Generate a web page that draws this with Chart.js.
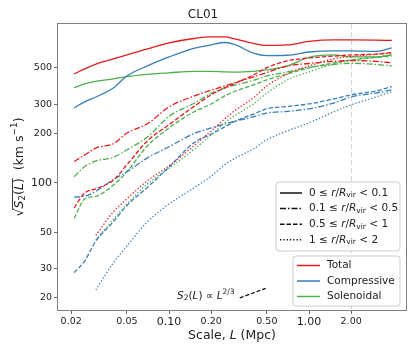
<!DOCTYPE html>
<html>
<head>
<meta charset="utf-8">
<script src="https://cdn.jsdelivr.net/npm/chart.js@4.4.1/dist/chart.umd.min.js"></script>
<style>
  html, body { margin: 0; padding: 0; background: #fff; }
</style>
</head>
<body>
<canvas id="chart" width="415" height="356"></canvas>
<script>
/* CL01 structure functions */

const F = 'DejaVu Sans';

// scale L (Mpc), shared by every curve
const scaleL = [0.021, 0.025, 0.03, 0.04, 0.05, 0.07, 0.1, 0.15, 0.2, 0.25, 0.3, 0.4, 0.5, 0.7, 1.0, 1.5, 2.0, 3.0, 3.9];

// Total
const total1 = [460, 493, 528, 567, 600, 653, 710, 755, 773, 773, 748, 705, 686, 690, 725, 740, 740, 738, 735];
const total2 = [135, 148, 163, 173, 201, 229, 290, 337, 366, 389, 408, 441, 469, 514, 532, 548, 554, 548, 538];
const total3 = [70.5, 87, 92, 104, 129, 180, 226, 291, 343, 378, 405, 453, 502, 552, 575, 590, 600, 607, 620];
const total4 = [null, null, 48, 66.7, 80, 103, 127, 168, 207, 245, 278, 329, 389, 460, 514, 567, 587, 604, 617];

// Compressive
const comp1 = [286, 311, 333, 378, 447, 514, 583, 658, 690, 714, 690, 615, 594, 597, 625, 635, 635, 630, 662];
const comp2 = [82, 83, 89, 105, 117, 142, 166, 199, 216, 228, 238, 252, 266, 272, 282, 306, 333, 352, 368];
const comp3 = [28.5, 33.6, 44.4, 58, 73, 94, 125, 175, 198, 219, 238, 262, 282, 292, 302, 324, 343, 362, 385];
const comp4 = [null, null, 22.4, 32.7, 41.4, 58, 74.5, 93, 110, 129, 142, 161, 183, 207, 232, 270, 298, 333, 359];

// Solenoidal
const sole1 = [380, 400, 414, 429, 443, 457, 467, 477, 477, 473, 472, 477, 486, 514, 580, 600, 583, 583, 600];
const sole2 = [109, 126, 136, 143, 159, 190, 254, 304, 350, 378, 394, 420, 447, 473, 504, 525, 534, 525, 514];
const sole3 = [61, 80, 83, 97, 117, 168, 216, 270, 302, 338, 362, 394, 423, 460, 500, 536, 559, 580, 590];
const sole4 = [null, null, 45, 60, 74.5, 98.6, 123, 159, 196, 232, 259, 302, 352, 423, 473, 528, 556, 580, 600];

const components = ['Total', 'Compressive', 'Solenoidal'];
const binLo = ['0', '0.1', '0.5', '1'];
const binHi = ['0.1', '0.5', '1', '2'];

const xTicks = [0.02, 0.05, 0.1, 0.2, 0.5, 1, 2];
const yTicks = [20, 30, 50, 100, 200, 300, 500];

// S2 ~ L^(2/3) guide
const slopeL = [0.32, 0.49];
const slopeV = [20, 22.9];

const colors = ['#e41a1c', '#377eb8', '#4daf4a'];
const dashes = [[], [6, 2, 1.5, 2], [4.5, 2], [1.3, 2]];

function series(vals, color, dash) {
  return {
    data: scaleL.map((x, i) => ({ x: x, y: vals[i] })),
    borderColor: color,
    borderWidth: 1.3,
    borderDash: dash,
    pointRadius: 0,
    fill: false,
    cubicInterpolationMode: 'monotone',
    spanGaps: true
  };
}

const groups = [
  [total1, total2, total3, total4],
  [comp1, comp2, comp3, comp4],
  [sole1, sole2, sole3, sole4]
];

const datasets = [];
groups.forEach((g, c) => g.forEach((vals, b) => datasets.push(series(vals, colors[c], dashes[b]))));
datasets.push({
  data: slopeL.map((x, i) => ({ x: x, y: slopeV[i] })),
  borderColor: '#111', borderWidth: 1.3, borderDash: [4, 2], pointRadius: 0, fill: false
});

// draw text made of several font pieces, returns x of each piece start
function drawParts(ctx, parts, x, y, align) {
  let w = 0;
  parts.forEach(p => { ctx.font = p.f; w += ctx.measureText(p.t).width; });
  let cx = align === 'center' ? x - w / 2 : x;
  const xs = [];
  parts.forEach(p => {
    ctx.font = p.f;
    xs.push(cx);
    ctx.fillText(p.t, cx, y + (p.dy || 0));
    cx += ctx.measureText(p.t).width;
  });
  xs.push(cx);
  return xs;
}

function box(ctx, x, y, w, h, r) {
  ctx.beginPath();
  ctx.moveTo(x + r, y);
  ctx.lineTo(x + w - r, y);
  ctx.quadraticCurveTo(x + w, y, x + w, y + r);
  ctx.lineTo(x + w, y + h - r);
  ctx.quadraticCurveTo(x + w, y + h, x + w - r, y + h);
  ctx.lineTo(x + r, y + h);
  ctx.quadraticCurveTo(x, y + h, x, y + h - r);
  ctx.lineTo(x, y + r);
  ctx.quadraticCurveTo(x, y, x + r, y);
  ctx.closePath();
  ctx.fillStyle = 'rgba(255,255,255,0.85)';
  ctx.fill();
  ctx.strokeStyle = '#cccccc';
  ctx.lineWidth = 1;
  ctx.stroke();
}

const n = s => s + 'px "' + F + '"';
const it = s => 'italic ' + s + 'px "' + F + '"';

const decor = {
  id: 'decor',
  beforeDatasetsDraw(chart) {
    const { ctx, chartArea: a, scales: { x } } = chart;
    const px = Math.round(x.getPixelForValue(2)) + 0.5;
    ctx.save();
    ctx.strokeStyle = '#d0d0d0';
    ctx.lineWidth = 1;
    ctx.setLineDash([5, 3]);
    ctx.beginPath(); ctx.moveTo(px, a.top); ctx.lineTo(px, a.bottom); ctx.stroke();
    ctx.restore();
  },
  afterDraw(chart) {
    const { ctx, chartArea: a, scales: { x, y } } = chart;
    ctx.save();
    ctx.fillStyle = '#222';
    ctx.textBaseline = 'middle';

    // frame
    ctx.strokeStyle = '#808080';
    ctx.lineWidth = 1;
    ctx.strokeRect(Math.round(a.left) - 0.5, Math.round(a.top) - 0.5, Math.round(a.right - a.left) + 1, Math.round(a.bottom - a.top) + 1);

    // x title
    ctx.fillStyle = '#222';
    drawParts(ctx, [
      { t: 'Scale, ', f: n(12.5) }, { t: 'L', f: it(12.5) }, { t: ' (Mpc)', f: n(12.5) }
    ], (a.left + a.right) / 2, 336, 'center');

    // y title
    ctx.save();
    ctx.translate(20, (a.top + a.bottom) / 2);
    ctx.rotate(-Math.PI / 2);
    const xs = drawParts(ctx, [
      { t: '√', f: n(12.5) }, { t: 'S', f: it(12.5) }, { t: '2', f: n(9), dy: 3 },
      { t: '(', f: n(12.5) }, { t: 'L', f: it(12.5) }, { t: ')', f: n(12.5) },
      { t: '  (km s', f: n(12.5) }, { t: '−1', f: n(9), dy: -5 }, { t: ')', f: n(12.5) }
    ], 0, 0, 'center');
    ctx.strokeStyle = '#222';
    ctx.lineWidth = 0.9;
    ctx.beginPath(); ctx.moveTo(xs[1] - 1, -7.5); ctx.lineTo(xs[6], -7.5); ctx.stroke();
    ctx.restore();

    // guide label
    ctx.fillStyle = '#222';
    drawParts(ctx, [
      { t: 'S', f: it(10.5) }, { t: '2', f: n(7.5), dy: 2.5 }, { t: '(', f: n(10.5) },
      { t: 'L', f: it(10.5) }, { t: ') ∝ ', f: n(10.5) }, { t: 'L', f: it(10.5) },
      { t: '2/3', f: n(7.5), dy: -4 }
    ], 177, 296, 'left');

    // radial bin legend
    const r = a.right;
    box(ctx, r - 130, 182, 124, 69, 3);
    ctx.strokeStyle = '#111';
    ctx.lineWidth = 1.5;
    binLo.forEach((lo, i) => {
      const ly = 193 + i * 15.6;
      ctx.setLineDash(dashes[i]);
      ctx.beginPath(); ctx.moveTo(r - 126, ly); ctx.lineTo(r - 104, ly); ctx.stroke();
      ctx.setLineDash([]);
      ctx.fillStyle = '#222';
      drawParts(ctx, [
        { t: lo + ' ≤ ', f: n(10.5) }, { t: 'r', f: it(10.5) }, { t: '/', f: n(10.5) },
        { t: 'R', f: it(10.5) }, { t: 'vir', f: n(7.5), dy: 2.5 }, { t: ' < ' + binHi[i], f: n(10.5) }
      ], r - 97, ly, 'left');
    });

    // component legend
    box(ctx, r - 113, 256, 107, 50, 3);
    components.forEach((name, i) => {
      const ly = 265.5 + i * 15.5;
      ctx.strokeStyle = colors[i];
      ctx.lineWidth = 1.5;
      ctx.beginPath(); ctx.moveTo(r - 109, ly); ctx.lineTo(r - 86, ly); ctx.stroke();
      ctx.fillStyle = '#222';
      ctx.font = n(10.5);
      ctx.fillText(name, r - 79, ly);
    });

    ctx.restore();
  }
};

new Chart(document.getElementById('chart'), {
  type: 'line',
  data: { datasets: datasets },
  plugins: [decor],
  options: {
    responsive: false,
    animation: false,
    devicePixelRatio: 1,
    layout: { padding: { left: 0, right: 9, top: 0, bottom: 0 } },
    plugins: {
      legend: { display: false },
      tooltip: { enabled: false },
      title: {
        display: true,
        text: 'CL01',
        color: '#222',
        font: { family: F, size: 12, weight: 'normal' },
        padding: { top: 7.5, bottom: 2 }
      }
    },
    scales: {
      x: {
        type: 'logarithmic',
        min: 0.0161,
        max: 4.93,
        afterFit: s => { s.height = 46; },
        afterBuildTicks: s => { s.ticks = xTicks.map(v => ({ value: v })); },
        grid: { display: true, drawOnChartArea: false, drawTicks: true, tickLength: 4, color: '#666' },
        border: { display: false },
        ticks: {
          autoSkip: false,
          maxRotation: 0,
          padding: 2,
          color: '#222',
          font: c => ({ family: F, size: (c.tick && (c.tick.value === 0.1 || c.tick.value === 1)) ? 11 : 9.5 }),
          callback: v => Number(v).toFixed(2)
        }
      },
      y: {
        type: 'logarithmic',
        min: 16.9,
        max: 926,
        afterFit: s => { s.width = 58; },
        afterBuildTicks: s => { s.ticks = yTicks.map(v => ({ value: v })); },
        grid: { display: true, drawOnChartArea: false, drawTicks: true, tickLength: 4, color: '#666' },
        border: { display: false },
        ticks: {
          autoSkip: false,
          padding: 2,
          color: '#222',
          font: c => ({ family: F, size: (c.tick && c.tick.value === 100) ? 11 : 9.5 }),
          callback: v => String(v)
        }
      }
    }
  }
});
</script>
</body>
</html>
